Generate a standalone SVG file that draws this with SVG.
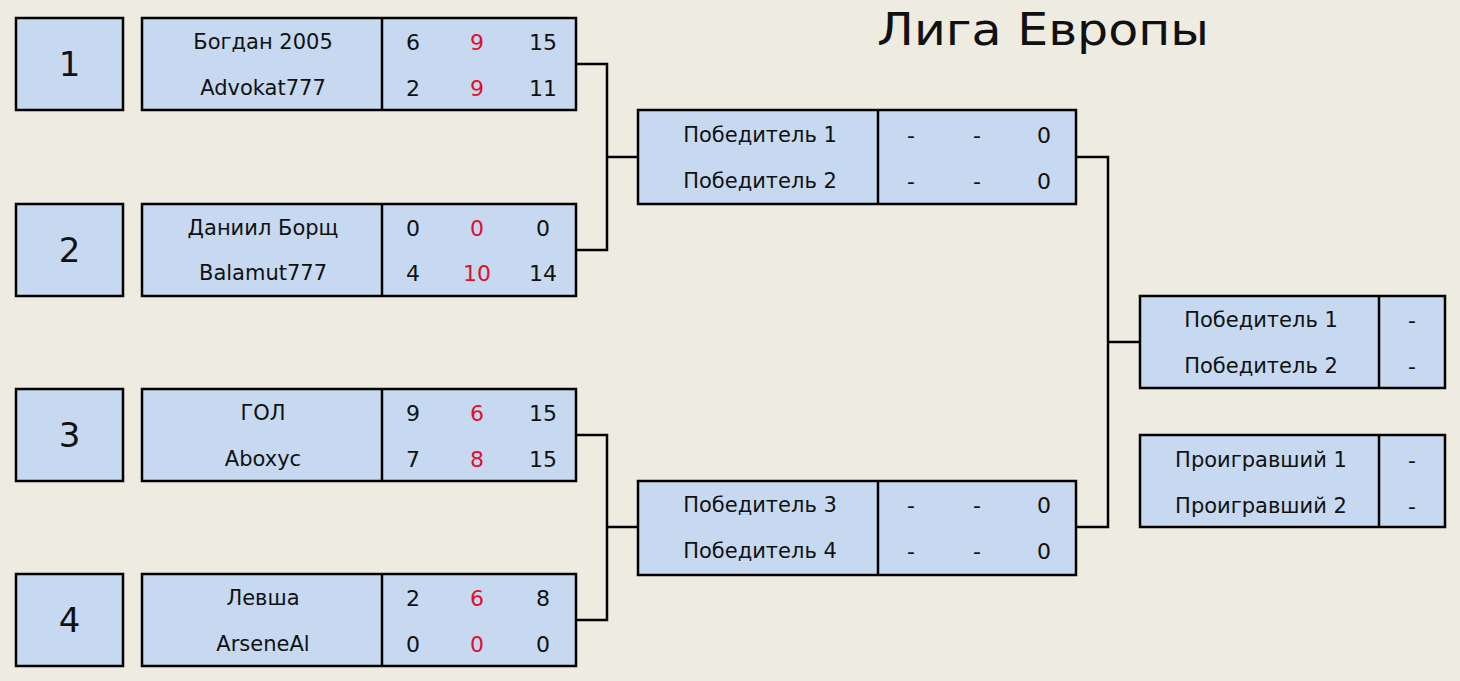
<svg xmlns="http://www.w3.org/2000/svg" width="1460" height="681" viewBox="0 0 1460 681">
<style>
.bg{fill:#EEEBE1}
.box{fill:#C6D9F0;stroke:#000;stroke-width:2.5}
.div{stroke:#000;stroke-width:2.5}
.con{fill:none;stroke:#000;stroke-width:2.5}
text{font-family:"DejaVu Sans","Liberation Sans",sans-serif;fill:#111;text-anchor:middle;dominant-baseline:central}
.t{font-size:21px}
.s{font-size:22px}
.seed{font-size:34px}
.r{fill:#E0102A}
.title{font-size:44px;text-anchor:start;dominant-baseline:alphabetic}
</style>
<rect class="bg" x="0" y="0" width="1460" height="681"/>
<text class="title" x="877" y="45" textLength="332" lengthAdjust="spacingAndGlyphs">Лига Европы</text>
<g id="connectors">
<polyline class="con" points="576,64 607,64 607,250 576,250"/>
<line class="con" x1="607" y1="157" x2="638" y2="157"/>
<polyline class="con" points="576,435 607,435 607,620 576,620"/>
<line class="con" x1="607" y1="527" x2="638" y2="527"/>
<polyline class="con" points="1076,157 1108,157 1108,527 1076,527"/>
<line class="con" x1="1108" y1="342" x2="1140" y2="342"/>
</g>
<g id="seed1"><rect class="box" x="16" y="18" width="107" height="92"/><text class="seed" x="69.5" y="64">1</text></g>
<g id="seed2"><rect class="box" x="16" y="204" width="107" height="92"/><text class="seed" x="69.5" y="250">2</text></g>
<g id="seed3"><rect class="box" x="16" y="389" width="107" height="92"/><text class="seed" x="69.5" y="435">3</text></g>
<g id="seed4"><rect class="box" x="16" y="574" width="107" height="92"/><text class="seed" x="69.5" y="620">4</text></g>
<g id="match1">
<rect class="box" x="142" y="18" width="434" height="92"/><line class="div" x1="382" y1="18" x2="382" y2="110"/>
<text class="t" x="263" y="42">Богдан 2005</text><text class="t" x="263" y="88">Advokat777</text>
<text class="s" x="413" y="42">6</text><text class="s r" x="477" y="42">9</text><text class="s" x="543" y="42">15</text>
<text class="s" x="413" y="88">2</text><text class="s r" x="477" y="88">9</text><text class="s" x="543" y="88">11</text>
</g>
<g id="match2">
<rect class="box" x="142" y="204" width="434" height="92"/><line class="div" x1="382" y1="204" x2="382" y2="296"/>
<text class="t" x="263" y="228">Даниил Борщ</text><text class="t" x="263" y="273">Balamut777</text>
<text class="s" x="413" y="228">0</text><text class="s r" x="477" y="228">0</text><text class="s" x="543" y="228">0</text>
<text class="s" x="413" y="273">4</text><text class="s r" x="477" y="273">10</text><text class="s" x="543" y="273">14</text>
</g>
<g id="match3">
<rect class="box" x="142" y="389" width="434" height="92"/><line class="div" x1="382" y1="389" x2="382" y2="481"/>
<text class="t" x="263" y="413">ГОЛ</text><text class="t" x="263" y="459">Aboxyc</text>
<text class="s" x="413" y="413">9</text><text class="s r" x="477" y="413">6</text><text class="s" x="543" y="413">15</text>
<text class="s" x="413" y="459">7</text><text class="s r" x="477" y="459">8</text><text class="s" x="543" y="459">15</text>
</g>
<g id="match4">
<rect class="box" x="142" y="574" width="434" height="92"/><line class="div" x1="382" y1="574" x2="382" y2="666"/>
<text class="t" x="263" y="598">Левша</text><text class="t" x="263" y="644">ArseneAl</text>
<text class="s" x="413" y="598">2</text><text class="s r" x="477" y="598">6</text><text class="s" x="543" y="598">8</text>
<text class="s" x="413" y="644">0</text><text class="s r" x="477" y="644">0</text><text class="s" x="543" y="644">0</text>
</g>
<g id="semi1">
<rect class="box" x="638" y="110" width="438" height="94"/><line class="div" x1="878" y1="110" x2="878" y2="204"/>
<text class="t" x="760" y="135">Победитель 1</text><text class="t" x="760" y="181">Победитель 2</text>
<text class="s" x="911" y="135">-</text><text class="s" x="977" y="135">-</text><text class="s" x="1044" y="135">0</text>
<text class="s" x="911" y="181">-</text><text class="s" x="977" y="181">-</text><text class="s" x="1044" y="181">0</text>
</g>
<g id="semi2">
<rect class="box" x="638" y="481" width="438" height="94"/><line class="div" x1="878" y1="481" x2="878" y2="575"/>
<text class="t" x="760" y="505">Победитель 3</text><text class="t" x="760" y="551">Победитель 4</text>
<text class="s" x="911" y="505">-</text><text class="s" x="977" y="505">-</text><text class="s" x="1044" y="505">0</text>
<text class="s" x="911" y="551">-</text><text class="s" x="977" y="551">-</text><text class="s" x="1044" y="551">0</text>
</g>
<g id="final">
<rect class="box" x="1140" y="296" width="305" height="92"/><line class="div" x1="1379" y1="296" x2="1379" y2="388"/>
<text class="t" x="1261" y="320">Победитель 1</text><text class="t" x="1261" y="366">Победитель 2</text>
<text class="s" x="1412" y="320">-</text><text class="s" x="1412" y="366">-</text>
</g>
<g id="third">
<rect class="box" x="1140" y="435" width="305" height="92"/><line class="div" x1="1379" y1="435" x2="1379" y2="527"/>
<text class="t" x="1261" y="460">Проигравший 1</text><text class="t" x="1261" y="506">Проигравший 2</text>
<text class="s" x="1412" y="460">-</text><text class="s" x="1412" y="506">-</text>
</g>
</svg>
